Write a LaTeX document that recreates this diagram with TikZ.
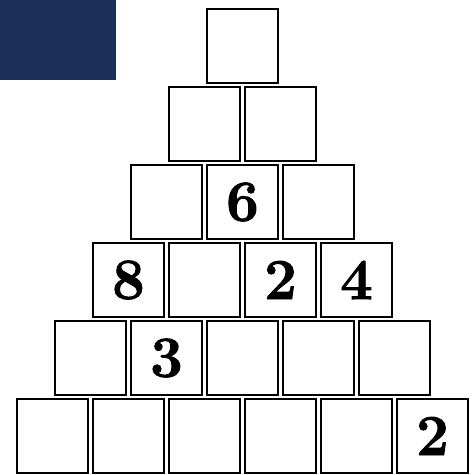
\documentclass[tikz,border=0pt]{standalone}
\usepackage{fontspec}
\usetikzlibrary{positioning}
\newfontfamily\heavydigit[BoldFeatures={FakeBold=1.6}]{Latin Modern Roman}
\definecolor{navyblock}{RGB}{26,48,89}
\tikzset{
  cell/.style={draw, line width=2.4pt, minimum width=71pt, minimum height=74pt, inner sep=0pt},
  digit/.style={font=\fontsize{58}{58}\heavydigit\bfseries, inner sep=0pt}
}
\begin{document}
\begin{tikzpicture}[x=1pt,y=-1pt]
\useasboundingbox (0,0) rectangle (475,475);
%% corner block
\fill[navyblock] (0,0) rectangle (116,80);
%% pyramid of cells: row \r has \r cells
\foreach \r in {1,...,6}{
  \pgfmathtruncatemacro{\last}{\r-1}
  \foreach \c in {0,...,\last}{
    \node[cell] (b\r\c) at ({52.5+38*(6-\r)+76*\c},{46+78*(\r-1)}) {};
  }
}
%% given numbers
\node[digit] (d6) at (b31) {6};
\node[digit] (d8) at (b40) {8};
\node[digit] (d2a) at (b42) {2};
\node[digit] (d4) at (b43) {4};
\node[digit] (d3) at (b51) {3};
\node[digit] (d2b) at (b65) {2};
\end{tikzpicture}
\end{document}
